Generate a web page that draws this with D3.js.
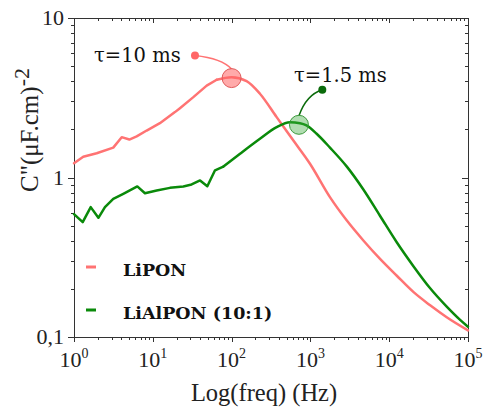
<!DOCTYPE html>
<html>
<head>
<meta charset="utf-8">
<script src="https://cdn.jsdelivr.net/npm/d3@7"></script>
<style>
  body { margin: 0; background: #fff; }
  svg { display: block; }
</style>
</head>
<body>
<div id="chart"></div>
<script>
// data
var lipFreq = [1, 1.31, 1.94, 3.15, 4.03, 5.04, 6.24, 8.36, 12.3, 19.1, 22.1, 32.7, 48.3, 64.7, 100, 155, 229, 373, 605, 988, 1770, 2900, 4700, 7600, 12400, 20400, 33100, 53700, 100000];
var lipC = [1.23, 1.35, 1.42, 1.54, 1.79, 1.73, 1.81, 1.97, 2.19, 2.57, 2.72, 3.19, 3.77, 4.10, 4.25, 4.02, 3.35, 2.39, 1.71, 1.22, 0.753, 0.537, 0.403, 0.31, 0.243, 0.191, 0.158, 0.133, 0.11];

var alFreq = [1, 1.29, 1.63, 2.04, 2.47, 3.15, 4.22, 6.36, 7.95, 11.2, 16.5, 24.4, 31.1, 39.8, 49.2, 61.6, 78.5, 128, 229, 373, 550, 738, 893, 1200, 1770, 2900, 4700, 7600, 12400, 20400, 33100, 53700, 79400, 100000];
var alC = [0.59, 0.525, 0.652, 0.559, 0.652, 0.735, 0.79, 0.879, 0.797, 0.829, 0.861, 0.879, 0.904, 0.958, 0.882, 1.11, 1.17, 1.41, 1.75, 2.07, 2.22, 2.19, 2.12, 1.88, 1.54, 1.17, 0.841, 0.578, 0.394, 0.277, 0.202, 0.155, 0.128, 0.116];

// above these frequencies the measured curves are smooth
var smoothFrom = [64.7, 78.5];

var seriesNames = ["LiPON", "LiAlPON (10:1)"];
var seriesColors = ["#ff7373", "#0a8a0a"];

// peaks (big circles) and label anchors (small dots)
var peakFreq = [100, 716];
var peakC = [4.2, 2.14];
var dotFreq = [34.3, 1416];
var dotC = [5.82, 3.55];
var tauLabels = ["τ=10 ms", "τ=1.5 ms"];

var xTickExp = [0, 1, 2, 3, 4, 5];
var yTickVals = [0.1, 1, 10];
var yTickLabels = ["0,1", "1", "10"];

var svgWidth = 483, svgHeight = 408;
var plotLeft = 74, plotRight = 468, plotTop = 18, plotBottom = 337;

var svg = d3.select("#chart").append("svg")
  .attr("width", svgWidth)
  .attr("height", svgHeight);

var x = d3.scaleLog().domain([1, 1e5]).range([plotLeft, plotRight]);
var y = d3.scaleLog().domain([0.1, 10]).range([plotBottom, plotTop]);

var axisColor = "#333";

// frame
svg.append("rect")
  .attr("x", plotLeft + 0.5).attr("y", plotTop + 0.5)
  .attr("width", plotRight - plotLeft).attr("height", plotBottom - plotTop)
  .attr("fill", "none").attr("stroke", axisColor).attr("stroke-width", 1);

function isMajor(v) {
  var l = Math.log10(v);
  return Math.abs(l - Math.round(l)) < 1e-9;
}

var xt = x.ticks();
var yt = y.ticks();

// bottom ticks (out) and top ticks (in)
xt.forEach(function(v) {
  var len = isMajor(v) ? 5 : 3;
  var px = Math.round(x(v)) + 0.5;
  svg.append("line").attr("x1", px).attr("x2", px)
    .attr("y1", plotBottom).attr("y2", plotBottom + len)
    .attr("stroke", axisColor);
  svg.append("line").attr("x1", px).attr("x2", px)
    .attr("y1", plotTop).attr("y2", plotTop + len)
    .attr("stroke", axisColor);
});

// left ticks (out) and right ticks (in)
yt.forEach(function(v) {
  var len = isMajor(v) ? 6 : 3;
  var py = Math.round(y(v)) + 0.5;
  svg.append("line").attr("x1", plotLeft - len).attr("x2", plotLeft)
    .attr("y1", py).attr("y2", py)
    .attr("stroke", axisColor);
  svg.append("line").attr("x1", plotRight - len).attr("x2", plotRight)
    .attr("y1", py).attr("y2", py)
    .attr("stroke", axisColor);
});

var serif = "'Liberation Serif', 'Times New Roman', serif";

// x tick labels
xTickExp.forEach(function(e) {
  var t = svg.append("text")
    .attr("x", x(Math.pow(10, e)))
    .attr("y", 367)
    .attr("text-anchor", "middle")
    .attr("font-family", serif)
    .attr("font-size", "22px")
    .attr("fill", "#222");
  t.append("tspan").text("10");
  t.append("tspan").attr("dy", -9).attr("font-size", "14px").text(e);
});

// y tick labels
yTickVals.forEach(function(v, i) {
  svg.append("text")
    .attr("x", 64)
    .attr("y", y(v) + 7)
    .attr("text-anchor", "end")
    .attr("font-family", serif)
    .attr("font-size", "22px")
    .attr("fill", "#222")
    .text(yTickLabels[i]);
});

// axis titles
svg.append("text")
  .attr("x", 264)
  .attr("y", 401)
  .attr("text-anchor", "middle")
  .attr("font-family", serif)
  .attr("font-size", "24.5px")
  .attr("fill", "#222")
  .text("Log(freq) (Hz)");

var yTitle = svg.append("text")
  .attr("transform", "translate(38,130) rotate(-90)")
  .attr("text-anchor", "middle")
  .attr("font-family", serif)
  .attr("font-size", "25px")
  .attr("fill", "#222");
yTitle.append("tspan").text("C\"(μF.cm)");
yTitle.append("tspan").attr("dy", -9).attr("font-size", "22px").text("-2");

// curves: linear through the noisy low-frequency part, smooth after
var lineRough = d3.line()
  .x(function(d) { return x(d[0]); })
  .y(function(d) { return y(d[1]); });
var lineSmooth = d3.line()
  .x(function(d) { return x(d[0]); })
  .y(function(d) { return y(d[1]); })
  .curve(d3.curveMonotoneX);

[d3.zip(lipFreq, lipC), d3.zip(alFreq, alC)].forEach(function(data, i) {
  var rough = data.filter(function(d) { return d[0] <= smoothFrom[i]; });
  var smooth = data.filter(function(d) { return d[0] >= smoothFrom[i]; });
  [[rough, lineRough], [smooth, lineSmooth]].forEach(function(p) {
    svg.append("path").datum(p[0])
      .attr("d", p[1])
      .attr("fill", "none")
      .attr("stroke", seriesColors[i])
      .attr("stroke-width", 2.5)
      .attr("stroke-linejoin", "round")
      .attr("stroke-linecap", "round");
  });
});

// annotations
var circleFill = ["rgba(255,100,100,0.55)", "rgba(60,170,60,0.4)"];
var circleStroke = ["#e05a5a", "#3c9a3c"];
var dotColor = ["#ff6666", "#0b6b0b"];
var connColor = ["#ff7373", "#0b6b0b"];

// connector control offsets (pixels, relative to the dot)
var ctrl = [[27, 3], [-16, 5]];

peakFreq.forEach(function(f, i) {
  var dx = x(dotFreq[i]), dy = y(dotC[i]);
  var px = x(f), py = y(peakC[i]);
  svg.append("path")
    .attr("d", "M" + dx + "," + dy + " Q" + (dx + ctrl[i][0]) + "," + (dy + ctrl[i][1]) + " " + px + "," + (py - 9))
    .attr("fill", "none")
    .attr("stroke", connColor[i])
    .attr("stroke-width", 1.5);
  svg.append("circle")
    .attr("cx", px).attr("cy", py).attr("r", 9.5)
    .attr("fill", circleFill[i])
    .attr("stroke", circleStroke[i])
    .attr("stroke-width", 1);
  svg.append("circle")
    .attr("cx", dx).attr("cy", dy).attr("r", 4)
    .attr("fill", dotColor[i]);
});

var tauPos = [[94, 62], [294, 82]];
tauLabels.forEach(function(t, i) {
  svg.append("text")
    .attr("x", tauPos[i][0])
    .attr("y", tauPos[i][1])
    .attr("font-family", "'DejaVu Serif', serif")
    .attr("font-size", "19.5px")
    .attr("fill", "#111")
    .text(t);
});

// legend
var legendY = [267, 310];
seriesNames.forEach(function(n, i) {
  svg.append("line")
    .attr("x1", 86).attr("x2", 96)
    .attr("y1", legendY[i]).attr("y2", legendY[i])
    .attr("stroke", seriesColors[i])
    .attr("stroke-width", 3);
  svg.append("text")
    .attr("x", 123)
    .attr("y", legendY[i] + 9)
    .attr("font-family", "'DejaVu Serif', serif")
    .attr("font-weight", "bold")
    .attr("font-size", "17.5px")
    .attr("fill", "#111")
    .text(n);
});
</script>
</body>
</html>
